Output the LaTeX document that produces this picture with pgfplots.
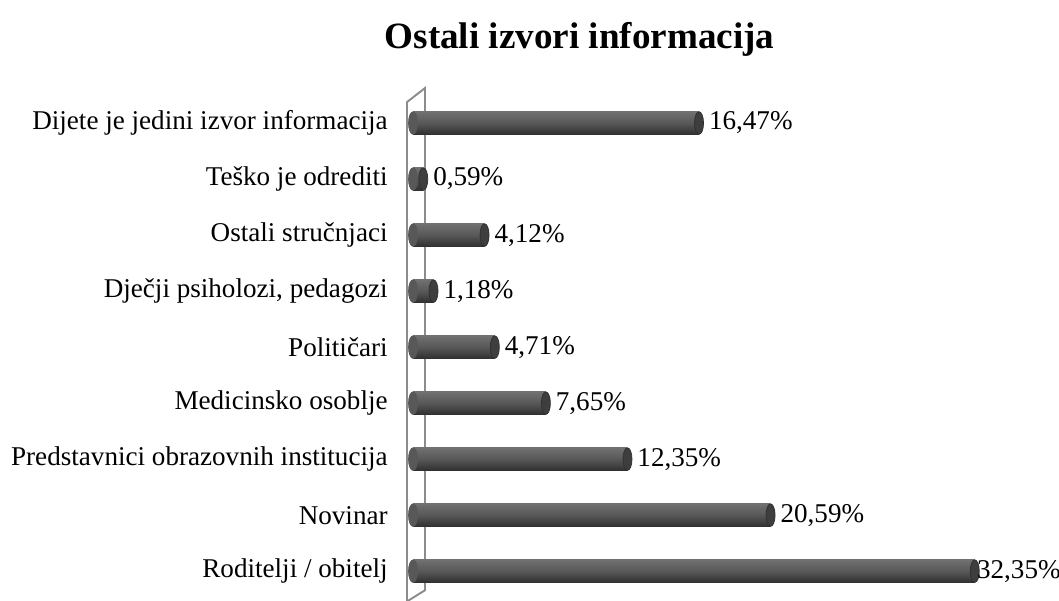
\documentclass[border=0pt]{standalone}
\usepackage{fontspec}
\setmainfont{Liberation Serif}
\usepackage{pgfplots}
\pgfplotsset{compat=1.18}
\definecolor{barmid}{HTML}{585858}
\definecolor{bartop}{HTML}{707070}
\definecolor{barbot}{HTML}{303030}
\definecolor{capcol}{HTML}{3E3E3E}
\definecolor{wallcol}{HTML}{8C8C8C}
\pgfplotsset{cyl/.style={xbar, bar width=11.7pt, bar shift=0pt, draw=none, top color=bartop, bottom color=barbot, middle color=barmid}}
\begin{document}
\begin{tikzpicture}[x=0.52pt,y=0.52pt]
\useasboundingbox (0,0) rectangle (1059,601);
\coordinate (A) at (404,-1);
\node[font=\fontsize{19.3}{23}\selectfont\bfseries] at (579.5,562) {Ostali izvori informacija};
\begin{axis}[
  at={(A)}, anchor=south west,
  scale only axis, width=309.9pt, height=270.9pt,
  xmin=-0.52, xmax=33.8, ymin=-0.55, ymax=8.75,
  axis line style={draw=none}, tick style={draw=none},
  xtick=\empty,
  ytick={0,1,2,3,4,5,6,7,8},
  yticklabels={Roditelji / obitelj, Novinar, Predstavnici obrazovnih institucija, Medicinsko osoblje, Političari, {Dječji psiholozi, pedagozi}, Ostali stručnjaci, Teško je odrediti, Dijete je jedini izvor informacija},
  yticklabel style={font=\fontsize{14.1}{17}\selectfont, anchor=east, inner sep=0pt, xshift=-8.3pt},
  clip=false,
]
\draw[wallcol, line width=1pt, fill=white] (axis cs:-0.345,-0.54) -- (axis cs:-0.345,8.375) -- (axis cs:0.69,8.625) -- (axis cs:0.69,-0.34) -- cycle;
% left ends
\addplot[only marks, mark=*, mark size=5.85pt, mark options={xscale=0.4, fill=barmid, draw=barmid}] coordinates {
(0,0) (0,1) (0,2) (0,3) (0,4) (0,5) (0,6) (0,7) (0,8)};
\addplot[cyl] coordinates {(32.35,0)};
\addplot[cyl] coordinates {(20.59,1)};
\addplot[cyl] coordinates {(12.35,2)};
\addplot[cyl] coordinates {(7.65,3)};
\addplot[cyl] coordinates {(4.71,4)};
\addplot[cyl] coordinates {(1.18,5)};
\addplot[cyl] coordinates {(4.12,6)};
\addplot[cyl] coordinates {(0.59,7)};
\addplot[cyl] coordinates {(16.47,8)};
% end caps
\addplot[only marks, mark=*, mark size=5.85pt, mark options={xscale=0.4, fill=capcol, draw=barbot}] coordinates {
(32.35,0) (20.59,1) (12.35,2) (7.65,3) (4.71,4) (1.18,5) (4.12,6) (0.59,7) (16.47,8)};
% value labels
\addplot[draw=none, mark=none,
  nodes near coords, point meta=explicit symbolic,
  every node near coord/.style={anchor=west, inner sep=0pt, xshift=5pt, text=black, font=\fontsize{14.1}{17}\selectfont}] coordinates {
(20.59,1) [20,59\%]
(12.35,2) [12,35\%]
(7.65,3) [7,65\%]
(4.71,4) [4,71\%]
(1.18,5) [1,18\%]
(4.12,6) [4,12\%]
(0.59,7) [0,59\%]
(16.47,8) [16,47\%]};
\addplot[draw=none, mark=none,
  nodes near coords, point meta=explicit symbolic,
  every node near coord/.style={anchor=west, inner sep=0pt, xshift=1pt, text=black, font=\fontsize{14.1}{17}\selectfont}] coordinates {
(32.35,0) [32,35\%]};
\end{axis}
\end{tikzpicture}
\end{document}
